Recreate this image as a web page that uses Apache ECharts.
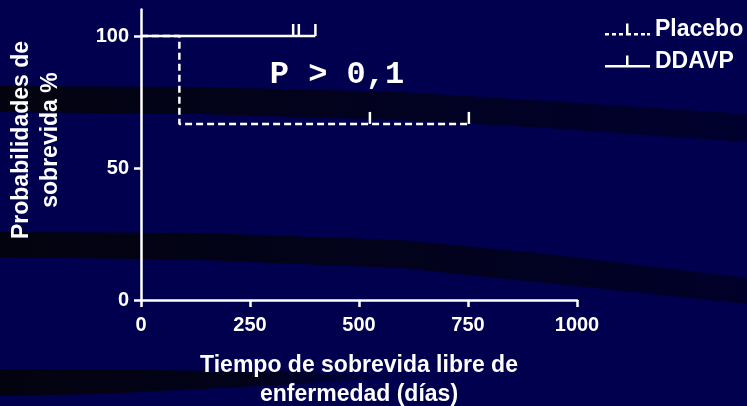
<!DOCTYPE html>
<html>
<head>
<meta charset="utf-8">
<script src="https://cdn.jsdelivr.net/npm/echarts@6/dist/echarts.min.js"></script>
<style>
  html, body { margin: 0; padding: 0; background: #00004e; }
  #chart { width: 747px; height: 406px; }
</style>
</head>
<body>
<div id="chart"></div>
<script>
// Kaplan-Meier data (days, % survival)
const placeboTimes = [0, 88, 525, 752];
const placeboSurv = [100, 66.7, 66.7, 66.7];
const placeboCensored = [false, false, true, true];

const ddavpTimes = [0, 349, 362, 400];
const ddavpSurv = [100, 100, 100, 100];
const ddavpCensored = [false, true, true, true];

const xTicks = [0, 250, 500, 750, 1000];
const yTicks = [0, 50, 100];

const font = 'Arial, "Liberation Sans", sans-serif';

function kmData(times, surv, cens) {
  return times.map((t, i) => ({
    value: [t, surv[i]],
    symbol: cens[i] ? 'rect' : 'none'
  }));
}

// legend icons: line with a censor tick in the middle (45 x 12 box)
const placeboIcon = 'path://M0,9.5h4v2.5h-4z M7,9.5h4v2.5h-4z M14,9.5h4v2.5h-4z M21,0h2.5v9.5h2.5v2.5h-5z M29,9.5h4v2.5h-4z M36,9.5h4v2.5h-4z M42,9.5h3v2.5h-3z';
const ddavpIcon = 'path://M0,9.5h21v-9.5h2.5v9.5h21.5v2.5h-45z';

const chart = echarts.init(document.getElementById('chart'));

chart.setOption({
  animation: false,
  backgroundColor: '#00004e',
  textStyle: { fontFamily: font },
  graphic: [
    // dark swooshes of the slide background
    {
      type: 'polygon', z: -10, silent: true,
      shape: { points: [[0, 86], [200, 87], [400, 92], [547, 101], [747, 114], [747, 142], [547, 128], [400, 120], [200, 114], [0, 112]] },
      style: { fill: new echarts.graphic.LinearGradient(0, 0, 1, 0, [{ offset: 0, color: '#03030f' }, { offset: 0.5, color: '#020220' }, { offset: 1, color: '#00002e' }]) }
    },
    {
      type: 'polygon', z: -10, silent: true,
      shape: { points: [[0, 232], [200, 233], [400, 240], [547, 254], [747, 278], [747, 304], [547, 283], [400, 268], [200, 260], [0, 257]] },
      style: { fill: new echarts.graphic.LinearGradient(0, 0, 1, 0, [{ offset: 0, color: '#03030f' }, { offset: 0.6, color: '#02021e' }, { offset: 1, color: '#00002a' }]) }
    },
    {
      type: 'polygon', z: -10, silent: true,
      shape: { points: [[0, 369], [150, 370], [300, 372], [420, 376], [260, 386], [100, 394], [0, 396]] },
      style: { fill: new echarts.graphic.LinearGradient(0, 0, 1, 0, [{ offset: 0, color: '#03030f' }, { offset: 0.6, color: '#02021a' }, { offset: 1, color: '#00004e' }]) }
    },
    {
      type: 'text', z: 100, silent: true,
      x: 36, y: 140, rotation: Math.PI / 2,
      style: {
        text: 'Probabilidades de\nsobrevida %',
        fill: '#fff', font: 'bold 23px ' + font,
        lineHeight: 29, align: 'center', verticalAlign: 'middle'
      }
    },
    {
      type: 'text', z: 100, silent: true,
      x: 337, y: 75,
      style: {
        text: 'P > 0,1',
        fill: '#fff', font: 'bold 32px "Liberation Mono", monospace',
        align: 'center', verticalAlign: 'middle'
      }
    }
  ],
  legend: {
    orient: 'vertical',
    left: 605,
    top: 18,
    padding: 0,
    itemWidth: 45,
    itemHeight: 12,
    itemGap: 9,
    itemStyle: { color: '#fff', borderWidth: 0 },
    textStyle: { color: '#fff', fontSize: 23, fontWeight: 'bold', fontFamily: font },
    data: [
      { name: 'Placebo', icon: placeboIcon },
      { name: 'DDAVP', icon: ddavpIcon }
    ]
  },
  grid: { left: 141, right: 170, top: 9.6, bottom: 106, outerBoundsMode: 'none' },
  xAxis: {
    type: 'value',
    min: 0, max: 1000, interval: 250,
    name: 'Tiempo de sobrevida libre de\nenfermedad (días)',
    nameLocation: 'middle',
    nameGap: 51,
    nameTextStyle: { color: '#fff', fontSize: 23, fontWeight: 'bold', lineHeight: 29, fontFamily: font },
    axisLine: { lineStyle: { color: '#fff', width: 2.5 } },
    axisTick: { length: 7, lineStyle: { color: '#fff', width: 2.5 }, customValues: xTicks },
    axisLabel: { color: '#fff', fontSize: 20, fontWeight: 'bold', margin: 15, customValues: xTicks, formatter: v => String(v) },
    splitLine: { show: false }
  },
  yAxis: {
    type: 'value',
    min: 0, max: 110,
    axisLine: { show: true, lineStyle: { color: '#fff', width: 2.5 } },
    axisTick: { show: true, length: 7, lineStyle: { color: '#fff', width: 2.5 }, customValues: yTicks },
    axisLabel: { color: '#fff', fontSize: 20, fontWeight: 'bold', margin: 12, customValues: yTicks, formatter: v => String(v) },
    splitLine: { show: false }
  },
  series: [
    {
      name: 'Placebo',
      type: 'line',
      step: 'end',
      color: '#fff',
      data: kmData(placeboTimes, placeboSurv, placeboCensored),
      symbolSize: [2.5, 12],
      symbolOffset: [0, -6],
      itemStyle: { color: '#fff', borderWidth: 0 },
      lineStyle: { color: '#fff', width: 2.5, type: [7, 4] }
    },
    {
      name: 'DDAVP',
      type: 'line',
      step: 'end',
      color: '#fff',
      data: kmData(ddavpTimes, ddavpSurv, ddavpCensored),
      symbolSize: [2.5, 12],
      symbolOffset: [0, -6],
      itemStyle: { color: '#fff', borderWidth: 0 },
      lineStyle: { color: '#fff', width: 2.5 }
    }
  ]
});
</script>
</body>
</html>
